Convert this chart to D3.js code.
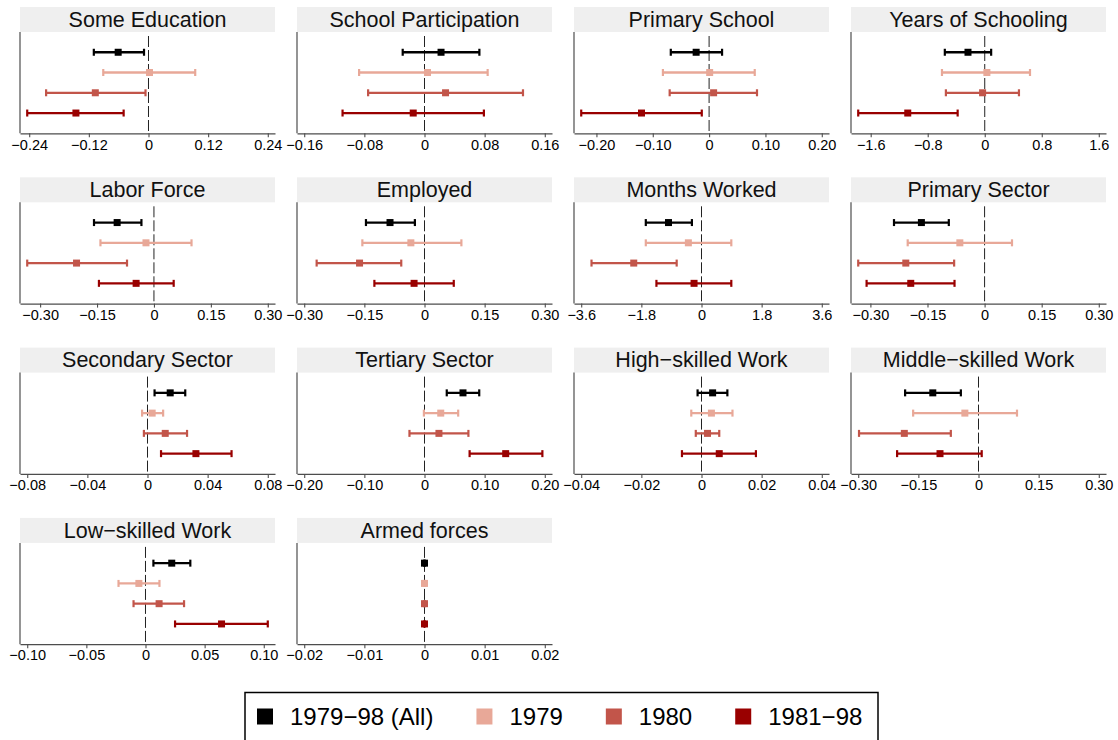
<!DOCTYPE html>
<html>
<head>
<meta charset="utf-8">
<script src="https://cdn.jsdelivr.net/npm/d3@7"></script>
<style>
  html, body { margin: 0; padding: 0; background: #fff; }
  svg { display: block; font-family: "Liberation Sans", Arial, Helvetica, sans-serif; }
</style>
</head>
<body>
<svg id="chart" width="1118" height="740"></svg>
<script>
// ---------------- DATA ----------------
const panelTitles = [
  "Some Education", "School Participation", "Primary School", "Years of Schooling",
  "Labor Force", "Employed", "Months Worked", "Primary Sector",
  "Secondary Sector", "Tertiary Sector", "High\u2212skilled Work", "Middle\u2212skilled Work",
  "Low\u2212skilled Work", "Armed forces"
];

const seriesNames = ["1979\u221298 (All)", "1979", "1980", "1981\u221298"];

// point estimates, per panel: [All, 1979, 1980, 1981-98]
const estimates = [
  [-0.061, 0.002, -0.107, -0.146],
  [0.022, 0.004, 0.028, -0.015],
  [-0.023, 0.001, 0.008, -0.120],
  [-0.235, 0.030, -0.030, -1.080],
  [-0.097, -0.021, -0.204, -0.047],
  [-0.086, -0.034, -0.162, -0.026],
  [-0.988, -0.393, -2.028, -0.223],
  [-0.166, -0.065, -0.207, -0.194],
  [0.0151, 0.0031, 0.0118, 0.0322],
  [0.064, 0.027, 0.024, 0.135],
  [0.0037, 0.0033, 0.0020, 0.0059],
  [-0.114, -0.034, -0.185, -0.096],
  [0.0222, -0.0056, 0.0115, 0.0643],
  [0, 0, 0, 0]
];

// lower confidence bounds
const lowerCI = [
  [-0.110, -0.091, -0.206, -0.244],
  [-0.029, -0.087, -0.075, -0.109],
  [-0.068, -0.082, -0.070, -0.227],
  [-0.560, -0.600, -0.545, -1.775],
  [-0.158, -0.141, -0.334, -0.145],
  [-0.146, -0.155, -0.269, -0.125],
  [-1.667, -1.667, -3.292, -1.349],
  [-0.238, -0.202, -0.332, -0.310],
  [0.0047, -0.0036, -0.0024, 0.0090],
  [0.037, -0.001, -0.025, 0.075],
  [-0.0013, -0.0034, -0.0019, -0.0065],
  [-0.183, -0.163, -0.298, -0.203],
  [0.0067, -0.0228, -0.0101, 0.0250],
  [0, 0, 0, 0]
];

// upper confidence bounds
const upperCI = [
  [-0.009, 0.094, -0.006, -0.050],
  [0.073, 0.084, 0.131, 0.079],
  [0.023, 0.081, 0.085, -0.013],
  [0.090, 0.635, 0.480, -0.380],
  [-0.033, 0.099, -0.071, 0.052],
  [-0.024, 0.092, -0.058, 0.073],
  [-0.287, 0.892, -0.743, 0.892],
  [-0.094, 0.072, -0.080, -0.079],
  [0.0251, 0.0104, 0.0263, 0.0559],
  [0.091, 0.056, 0.073, 0.196],
  [0.0086, 0.0103, 0.0059, 0.0181],
  [-0.044, 0.096, -0.069, 0.008],
  [0.0379, 0.0118, 0.0326, 0.1034],
  [0, 0, 0, 0]
];

const tickLabels = [
  ["\u22120.24", "\u22120.12", "0", "0.12", "0.24"],
  ["\u22120.16", "\u22120.08", "0", "0.08", "0.16"],
  ["\u22120.20", "\u22120.10", "0", "0.10", "0.20"],
  ["\u22121.6", "\u22120.8", "0", "0.8", "1.6"],
  ["\u22120.30", "\u22120.15", "0", "0.15", "0.30"],
  ["\u22120.30", "\u22120.15", "0", "0.15", "0.30"],
  ["\u22123.6", "\u22121.8", "0", "1.8", "3.6"],
  ["\u22120.30", "\u22120.15", "0", "0.15", "0.30"],
  ["\u22120.08", "\u22120.04", "0", "0.04", "0.08"],
  ["\u22120.20", "\u22120.10", "0", "0.10", "0.20"],
  ["\u22120.04", "\u22120.02", "0", "0.02", "0.04"],
  ["\u22120.30", "\u22120.15", "0", "0.15", "0.30"],
  ["\u22120.10", "\u22120.05", "0", "0.05", "0.10"],
  ["\u22120.02", "\u22120.01", "0", "0.01", "0.02"]
];

// ---------------- LAYOUT / STYLE ----------------
const colors = ["#000000", "#E8A898", "#C2554A", "#990000"];
const colX0 = 20, colStep = 277, panelW = 255;
const rowY0 = 7, rowStep = 170.3, stripH = 25, plotH = 101.3;

const svg = d3.select("#chart");

panelTitles.forEach((title, i) => {
  const c = i % 4, r = Math.floor(i / 4);
  const x0 = colX0 + c * colStep;
  const stripTop = rowY0 + r * rowStep;
  const plotTop = stripTop + stripH;
  const plotBottom = plotTop + plotH;

  const ticks = tickLabels[i].map(s => +s.replace("\u2212", "-"));
  const ext = d3.extent([...lowerCI[i], ...upperCI[i], ...ticks]);
  const pad = (ext[1] - ext[0]) * 0.03;
  const x = d3.scaleLinear().domain([ext[0] - pad, ext[1] + pad]).range([x0, x0 + panelW]);
  const y = d3.scaleLinear().domain([0, 5]).range([plotTop, plotBottom]);

  const g = svg.append("g");

  // strip
  g.append("rect")
    .attr("x", x0).attr("y", stripTop)
    .attr("width", panelW).attr("height", stripH)
    .attr("fill", "#EFEFEF");
  g.append("text")
    .attr("x", x0 + panelW / 2).attr("y", stripTop + stripH / 2 + 7.2)
    .attr("text-anchor", "middle")
    .attr("font-size", 21.5)
    .attr("fill", "#111")
    .text(title);

  // zero line
  g.append("line")
    .attr("x1", x(0)).attr("x2", x(0))
    .attr("y1", plotTop + 4).attr("y2", plotBottom)
    .attr("stroke", "#222").attr("stroke-width", 1)
    .attr("stroke-dasharray", "11,3");

  // error bars
  const rows = seriesNames.map((s, j) => ({ j, est: estimates[i][j], lo: lowerCI[i][j], hi: upperCI[i][j] }));
  const eb = g.selectAll("g.eb").data(rows).enter().append("g").attr("class", "eb");
  eb.append("line")
    .attr("x1", d => x(d.lo)).attr("x2", d => x(d.hi))
    .attr("y1", d => y(d.j + 1)).attr("y2", d => y(d.j + 1))
    .attr("stroke", d => colors[d.j]).attr("stroke-width", 2.3);
  ["lo", "hi"].forEach(k => {
    eb.append("line")
      .attr("x1", d => x(d[k])).attr("x2", d => x(d[k]))
      .attr("y1", d => y(d.j + 1) - 3.5).attr("y2", d => y(d.j + 1) + 3.5)
      .attr("stroke", d => colors[d.j]).attr("stroke-width", 2.2);
  });
  eb.append("rect")
    .attr("x", d => x(d.est) - 3.5).attr("y", d => y(d.j + 1) - 3.5)
    .attr("width", 7).attr("height", 7)
    .attr("fill", d => colors[d.j]);

  // left axis line
  g.append("line")
    .attr("x1", x0).attr("x2", x0)
    .attr("y1", plotTop).attr("y2", plotBottom)
    .attr("stroke", "#4d4d4d").attr("stroke-width", 1.2);

  // bottom axis
  const ax = g.append("g")
    .attr("transform", `translate(0,${plotBottom})`)
    .call(d3.axisBottom(x).tickValues(ticks)
      .tickFormat((d, k) => tickLabels[i][k])
      .tickSize(4).tickSizeOuter(0).tickPadding(2));
  ax.select(".domain").attr("stroke", "#4d4d4d").attr("stroke-width", 1.2);
  ax.selectAll(".tick line").attr("stroke", "#4d4d4d").attr("stroke-width", 1.1);
  ax.selectAll(".tick text")
    .attr("font-family", "'Liberation Sans', Arial, sans-serif")
    .attr("font-size", 14.5).attr("fill", "#000");
});

// ---------------- LEGEND ----------------
const leg = svg.append("g");
const legX = 245, legY = 692.5, legRight = 878;
leg.append("rect")
  .attr("x", legX).attr("y", legY)
  .attr("width", legRight - legX).attr("height", 60)
  .attr("fill", "#fff").attr("stroke", "#000").attr("stroke-width", 1.5);

let cx = 257;
const cy = 716.5;
seriesNames.forEach((name, j) => {
  leg.append("rect")
    .attr("x", cx).attr("y", cy - 8)
    .attr("width", 16).attr("height", 16)
    .attr("fill", colors[j]);
  const t = leg.append("text")
    .attr("x", cx + 33).attr("y", cy + 8.5)
    .attr("font-size", 24).attr("fill", "#000")
    .text(name);
  cx = cx + 33 + t.node().getComputedTextLength() + 43;
});
</script>
</body>
</html>
